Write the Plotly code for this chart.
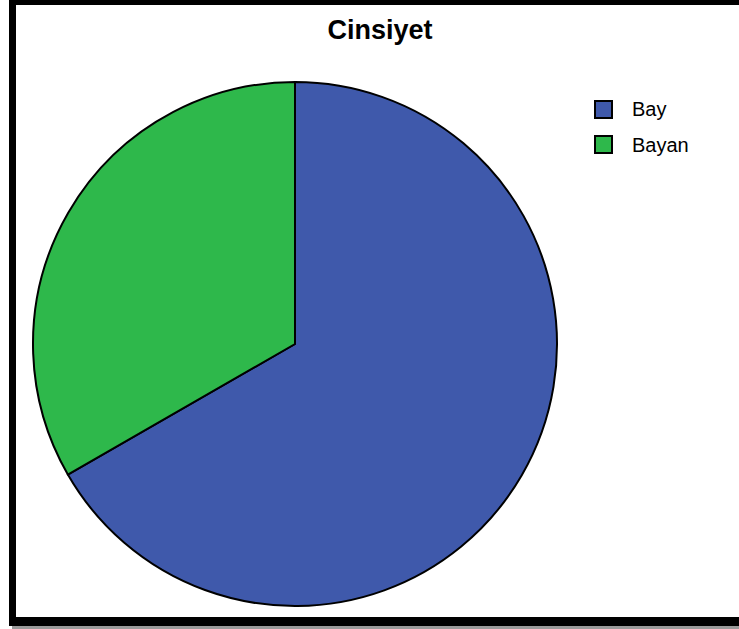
import plotly.graph_objects as go

# Gender distribution (percent)
labels = ["Bay", "Bayan"]
values = [66.7, 33.3]
colors = ["#3F59AB", "#2EB84B"]

W, H = 739, 629


def px(x):
    return x / W


def py(y):
    return 1 - y / H


fig = go.Figure()
fig.add_trace(go.Pie(
    labels=labels,
    values=values,
    sort=False,
    direction="clockwise",
    rotation=0,
    textinfo="none",
    hoverinfo="label+percent",
    showlegend=False,
    marker=dict(colors=colors, line=dict(color="black", width=2)),
    domain=dict(x=[px(33), px(557)], y=[py(606), py(82)]),
))

shapes = [
    # drop shadow of the frame
    dict(type="rect", xref="paper", yref="paper",
         x0=px(12), x1=px(745), y0=py(629), y1=py(4),
         fillcolor="#9a9a9a", line=dict(width=0), layer="below"),
    # black frame
    dict(type="rect", xref="paper", yref="paper",
         x0=px(9), x1=px(745), y0=py(626), y1=py(-2),
         fillcolor="black", line=dict(width=0), layer="below"),
    # white plotting panel
    dict(type="rect", xref="paper", yref="paper",
         x0=px(16), x1=px(745), y0=py(617), y1=py(5),
         fillcolor="white", line=dict(width=0), layer="below"),
]

# Legend: square swatch + label for each category
annotations = []
row_top, row_step, box = 101, 35, 17
for i, (lab, col) in enumerate(zip(labels, colors)):
    top = row_top + i * row_step
    shapes.append(dict(type="rect", xref="paper", yref="paper",
                       x0=px(595), x1=px(595 + box), y0=py(top + box), y1=py(top),
                       fillcolor=col, line=dict(color="black", width=2)))
    annotations.append(dict(text=lab, xref="paper", yref="paper",
                            x=px(630), y=py(top + box / 2),
                            xanchor="left", yanchor="middle", showarrow=False,
                            font=dict(family="Liberation Sans, Arial", size=20, color="black")))

fig.update_layout(
    width=W, height=H,
    margin=dict(l=0, r=0, t=0, b=0),
    paper_bgcolor="white",
    plot_bgcolor="white",
    shapes=shapes,
    annotations=annotations,
    title=dict(text="<b>Cinsiyet</b>", x=px(380), y=py(30),
               xanchor="center", yanchor="middle",
               font=dict(family="Liberation Sans, Arial", size=27, color="black")),
    showlegend=False,
)

fig.write_html("out.html")
